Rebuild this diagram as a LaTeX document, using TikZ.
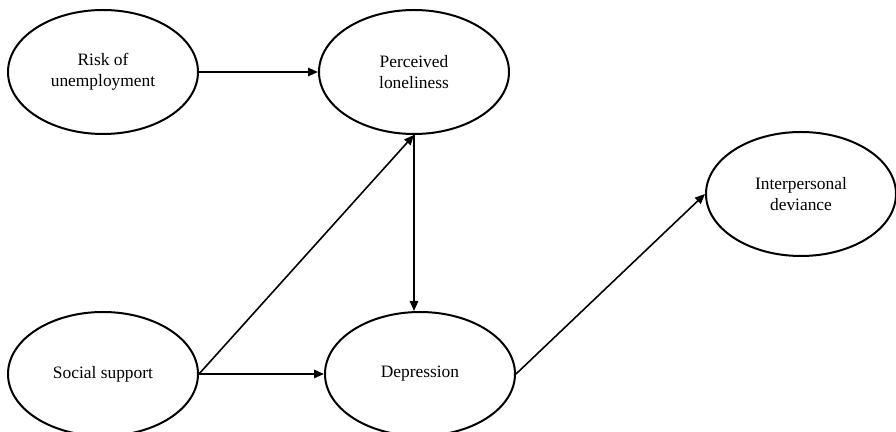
\documentclass[tikz,border=0pt]{standalone}
\usepackage{fontspec}
\setmainfont{Liberation Serif}
\usetikzlibrary{shapes.geometric, arrows.meta, positioning}
\tikzset{
  constructnode/.style={
    ellipse, draw, line width=1pt, align=center, inner sep=0pt,
    minimum width=95pt, minimum height=62pt,
    font=\fontsize{8.7pt}{10.5pt}\selectfont
  },
  patharrow/.style={
    -{Triangle[length=5pt,width=4.2pt]}, line width=0.8pt
  },
}

\begin{document}
\begin{tikzpicture}[x=0.5pt, y=-0.5pt]
  \useasboundingbox (0,0) rectangle (896,432);

  % Constructs
  \node[constructnode] (risk) at (103,72) {Risk of\\unemployment};
  \node[constructnode] (lonely) at (414,72) {Perceived\\loneliness};
  \node[constructnode] (deviance) at (801,194) {Interpersonal\\deviance};
  \node[constructnode] (support) at (103,374) {Social support};
  \node[constructnode] (depress) at (420,374) {Depression};

  % Paths
  \draw[patharrow] (risk.east) -- (lonely.west);
  \draw[patharrow] (support.east) -- (lonely.south);
  \draw[patharrow] (support.east) -- (depress.west);
  \draw[patharrow] (lonely.south) -- (lonely.south |- depress.north);
  \draw[patharrow] (depress.east) -- (deviance.west);
\end{tikzpicture}
\end{document}
